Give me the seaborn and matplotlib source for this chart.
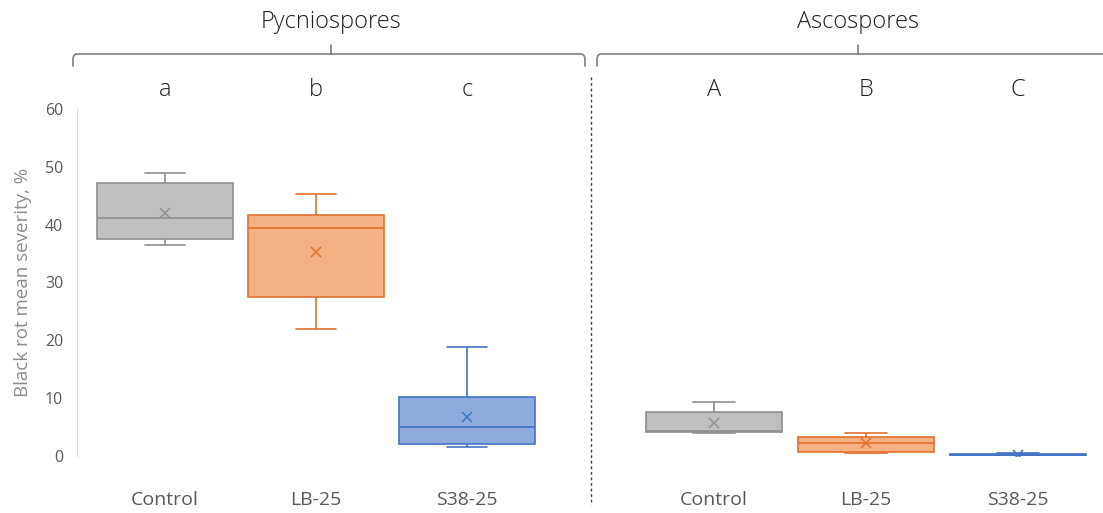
import matplotlib
matplotlib.use("Agg")
import matplotlib.pyplot as plt
import seaborn as sns
import pandas as pd
from matplotlib.lines import Line2D

# Treatments and values
treatments = ["Control", "LB-25", "S38-25"]

# five-number summaries (min, Q1, median, Q3, max) per treatment
pyc_control = [36.5, 37.6, 41.2, 47.2, 48.9]
pyc_lb25 = [22.0, 27.5, 39.4, 41.6, 45.3]
pyc_s38 = [1.6, 2.1, 5.1, 10.2, 18.8]
asco_control = [4.0, 4.1, 4.4, 7.6, 9.3]
asco_lb25 = [0.6, 0.7, 2.2, 3.2, 4.0]
asco_s38 = [0.0, 0.0, 0.1, 0.3, 0.6]

pyc_means = [42.1, 35.3, 6.7]
asco_means = [5.65, 2.2, 0.2]

pyc_letters = ["a", "b", "c"]
asco_letters = ["A", "B", "C"]

fill_colors = ["#BFBFBF", "#F4B183", "#8FAADC"]
edge_colors = ["#8F8F8F", "#E2712E", "#4472C4"]

sns.set_style("white")
plt.rcParams["font.family"] = ["Open Sans", "DejaVu Sans"]

W, H = 1103, 513
fig = plt.figure(figsize=(W / 100, H / 100), dpi=100)


def px_axes(x0, x1, y_top, y_bot):
    return fig.add_axes([x0 / W, 1 - y_bot / H, (x1 - x0) / W, (y_bot - y_top) / H])


def long_frame(groups):
    rows = []
    for name, vals in zip(treatments, groups):
        for v in vals:
            rows.append({"treatment": name, "severity": v})
    return pd.DataFrame(rows)


def draw_panel(ax, groups, means, letters):
    df = long_frame(groups)
    sns.boxplot(data=df, x="treatment", y="severity", hue="treatment",
                order=treatments, hue_order=treatments,
                palette=fill_colors, saturation=1, width=0.9, linewidth=1.2,
                showfliers=False, capwidths=0.27, legend=False, ax=ax)
    # outline each box in a darker shade of its fill
    for patch in ax.patches:
        xs = patch.get_path().vertices[:, 0]
        i = int(round(xs.mean()))
        patch.set_edgecolor(edge_colors[i])
    for line in ax.lines:
        xd = line.get_xdata()
        if len(xd) == 0:
            continue
        i = int(round(sum(xd) / len(xd)))
        line.set_color(edge_colors[i])
    sns.pointplot(x=treatments, y=means, hue=treatments, order=treatments,
                  hue_order=treatments, palette=edge_colors, markers="x",
                  linestyles="none", errorbar=None, legend=False, ax=ax,
                  markersize=7, markeredgewidth=1.1)
    ax.set_ylim(0, 60)
    ax.set_xlabel("")
    ax.set_ylabel("")
    for spine in ["top", "right", "bottom"]:
        ax.spines[spine].set_visible(False)
    ax.tick_params(axis="x", length=0, pad=25, labelsize=14, labelcolor="#595959")
    for i, letter in enumerate(letters):
        ax.text(i, 1.055, letter, transform=ax.get_xaxis_transform(),
                ha="center", va="center", fontsize=17, color="#202020",
                fontweight="light")


# left panel: Pycniospores
ax1 = px_axes(77, 590, 109, 456)
draw_panel(ax1, [pyc_control, pyc_lb25, pyc_s38], pyc_means, pyc_letters)
ax1.set_xlim((77 - 165) / 151, (590 - 165) / 151)
ax1.set_yticks([0, 10, 20, 30, 40, 50, 60])
ax1.spines["left"].set_color("#D9D9D9")
ax1.tick_params(axis="y", length=0, pad=10, labelsize=11.5, labelcolor="#595959")
ax1.set_ylabel("Black rot mean severity, %", fontsize=13.5, color="#8C8C8C")
ax1.yaxis.set_label_coords(-0.088, 0.5)

# right panel: Ascospores
ax2 = px_axes(595, 1103, 109, 456)
draw_panel(ax2, [asco_control, asco_lb25, asco_s38], asco_means, asco_letters)
ax2.set_xlim((595 - 714) / 152, (1103 - 714) / 152)
ax2.spines["left"].set_visible(False)
ax2.set_yticks([])

# brackets, group titles and divider drawn in pixel space
over = fig.add_axes([0, 0, 1, 1], facecolor="none")
over.set_xlim(0, W)
over.set_ylim(H, 0)
over.axis("off")

bracket_kw = dict(color="#7F7F7F", lw=1.2, solid_joinstyle="round")
over.add_line(Line2D([73, 73, 74, 76, 582, 584, 585, 585],
                     [66, 58, 55.5, 54, 54, 55.5, 58, 66], **bracket_kw))
over.add_line(Line2D([331, 331], [54, 45], **bracket_kw))
over.add_line(Line2D([597, 597, 598, 600, 1110], [66, 58, 55.5, 54, 54], **bracket_kw))
over.add_line(Line2D([858, 858], [54, 45], **bracket_kw))
over.add_line(Line2D([591, 591], [77, 505], color="#404040", lw=1.0,
                     linestyle=(0, (2, 2))))

over.text(331, 22, "Pycniospores", ha="center", va="center", fontsize=17,
          color="#202020", fontweight="light")
over.text(858, 22, "Ascospores", ha="center", va="center", fontsize=17,
          color="#202020", fontweight="light")

fig.savefig("out.png", dpi=100)
